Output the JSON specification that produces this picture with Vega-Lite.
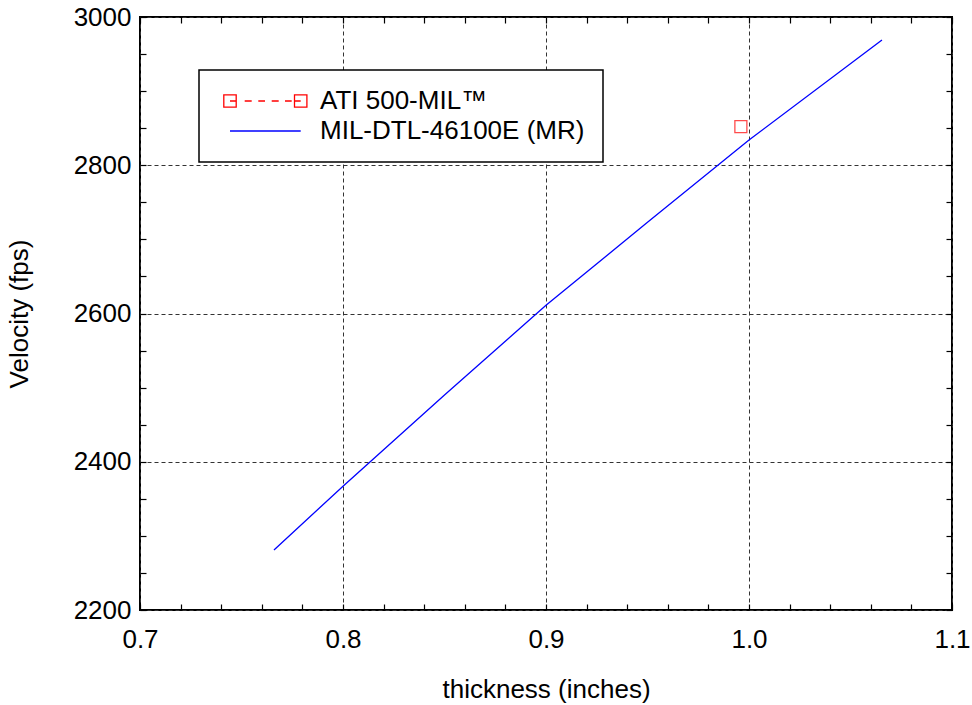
{
  "$schema": "https://vega.github.io/schema/vega-lite/v6.json",
  "width": 812,
  "height": 593,
  "autosize": {"type": "none"},
  "padding": {"left": 140, "top": 17, "right": 20, "bottom": 95},
  "background": "white",
  "config": {
    "font": "Liberation Sans",
    "view": {"stroke": "black", "strokeWidth": 2},
    "axis": {
      "domain": false,
      "tickColor": "black",
      "tickWidth": 1.2,
      "tickSize": -6,
      "labelFont": "Liberation Sans",
      "labelFontSize": 26,
      "labelColor": "black",
      "labelFlush": false,
      "labelOverlap": false,
      "labelBound": false,
      "titleFont": "Liberation Sans",
      "titleFontSize": 26,
      "titleFontWeight": "normal",
      "titleColor": "black",
      "gridColor": "#333333",
      "gridDash": [4, 3],
      "gridWidth": 1
    }
  },
  "datasets": {
    "mr": [
      {"series": "MIL-DTL-46100E (MR)", "thickness": 0.766, "velocity": 2281},
      {"series": "MIL-DTL-46100E (MR)", "thickness": 0.8, "velocity": 2367},
      {"series": "MIL-DTL-46100E (MR)", "thickness": 0.85, "velocity": 2490},
      {"series": "MIL-DTL-46100E (MR)", "thickness": 0.9, "velocity": 2611},
      {"series": "MIL-DTL-46100E (MR)", "thickness": 0.95, "velocity": 2723},
      {"series": "MIL-DTL-46100E (MR)", "thickness": 1.0, "velocity": 2834},
      {"series": "MIL-DTL-46100E (MR)", "thickness": 1.0655, "velocity": 2969}
    ],
    "ati": [
      {"series": "ATI 500-MIL™", "thickness": 0.996, "velocity": 2852}
    ]
  },
  "layer": [
    {
      "data": {"name": "mr"},
      "mark": {"type": "line", "strokeWidth": 1.3},
      "encoding": {
        "x": {
          "field": "thickness",
          "type": "quantitative",
          "scale": {"domain": [0.7, 1.1], "nice": false, "zero": false},
          "axis": {
            "orient": "bottom",
            "title": "thickness (inches)",
            "values": [0.7, 0.72, 0.74, 0.76, 0.78, 0.8, 0.82, 0.84, 0.86, 0.88, 0.9, 0.92, 0.94, 0.96, 0.98, 1.0, 1.02, 1.04, 1.06, 1.08, 1.1],
            "labelExpr": "abs(datum.value*10 - round(datum.value*10)) < 0.001 ? format(datum.value, '.1f') : ''",
            "grid": true,
            "gridOpacity": {"condition": {"test": "abs(datum.value*10 - round(datum.value*10)) < 0.001", "value": 1}, "value": 0},
            "labelPadding": 22,
            "titlePadding": 24
          }
        },
        "y": {
          "field": "velocity",
          "type": "quantitative",
          "scale": {"domain": [2200, 3000], "nice": false, "zero": false},
          "axis": {
            "orient": "left",
            "title": "Velocity (fps)",
            "values": [2200, 2250, 2300, 2350, 2400, 2450, 2500, 2550, 2600, 2650, 2700, 2750, 2800, 2850, 2900, 2950, 3000],
            "labelExpr": "datum.value % 200 === 0 ? format(datum.value, 'd') : ''",
            "grid": true,
            "gridOpacity": {"condition": {"test": "datum.value % 200 === 0", "value": 1}, "value": 0},
            "labelPadding": 15,
            "titlePadding": 41
          }
        },
        "color": {
          "field": "series",
          "type": "nominal",
          "scale": {"domain": ["ATI 500-MIL™", "MIL-DTL-46100E (MR)"], "range": ["#ff0000", "#0000ff"]},
          "legend": {
            "orient": "none",
            "legendX": 59,
            "legendY": 53,
            "title": null,
            "padding": 18,
            "strokeColor": "black",
            "fillColor": "white",
            "labelFont": "Liberation Sans",
            "labelFontSize": 26,
            "labelColor": "black",
            "labelLimit": 500,
            "symbolSize": 400,
            "symbolStrokeWidth": 1.3,
            "labelOffset": 77,
            "rowPadding": 4,
            "encode": {
              "legend": {"update": {"strokeWidth": {"value": 1.5}}},
              "symbols": {
                "update": {
                  "shape": {"signal": "datum.index === 0 ? 'M-0.62,-0.62H0.62V0.62H-0.62ZM6.45,-0.62H7.69V0.62H6.45ZM0,0H0.67M1.47,0H2.17M2.83,0H3.5M4.17,0H4.87M5.5,0H6.17M6.45,0H7.07' : 'M0,0H7.07'"},
                  "fill": {"value": "transparent"},
                  "strokeDash": {"value": []}
                }
              }
            }
          }
        }
      }
    },
    {
      "data": {"name": "ati"},
      "mark": {"type": "point", "shape": "square", "filled": false, "size": 144, "strokeWidth": 1.3},
      "encoding": {
        "x": {
          "field": "thickness",
          "type": "quantitative",
          "scale": {"domain": [0.7, 1.1], "nice": false, "zero": false},
          "axis": {
            "orient": "top",
            "title": null,
            "labels": false,
            "grid": false,
            "values": [0.7, 0.72, 0.74, 0.76, 0.78, 0.8, 0.82, 0.84, 0.86, 0.88, 0.9, 0.92, 0.94, 0.96, 0.98, 1.0, 1.02, 1.04, 1.06, 1.08, 1.1]
          }
        },
        "y": {
          "field": "velocity",
          "type": "quantitative",
          "scale": {"domain": [2200, 3000], "nice": false, "zero": false},
          "axis": {
            "orient": "right",
            "title": null,
            "labels": false,
            "grid": false,
            "values": [2200, 2250, 2300, 2350, 2400, 2450, 2500, 2550, 2600, 2650, 2700, 2750, 2800, 2850, 2900, 2950, 3000]
          }
        },
        "color": {"field": "series", "type": "nominal"}
      }
    }
  ],
  "resolve": {"axis": {"x": "independent", "y": "independent"}}
}
